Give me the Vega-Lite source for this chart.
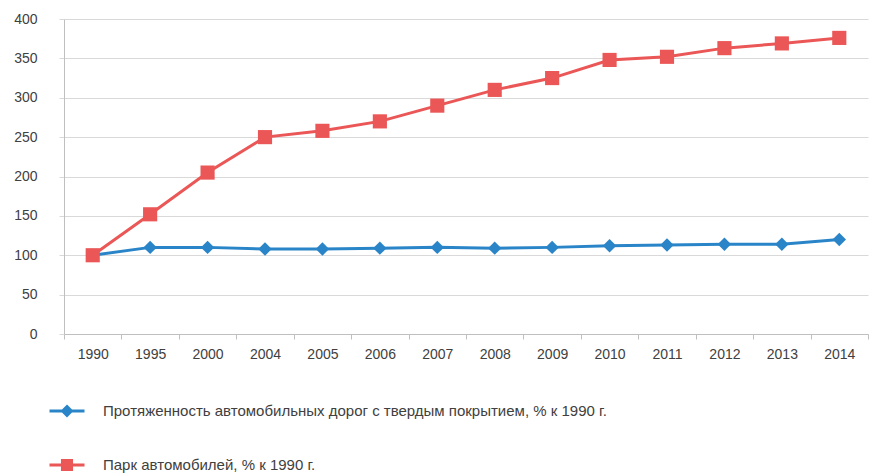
{
  "$schema": "https://vega.github.io/schema/vega-lite/v6.json",
  "width": 804,
  "height": 315,
  "autosize": {"type": "none"},
  "padding": {"left": 64, "top": 19, "right": 1, "bottom": 140},
  "background": "white",
  "config": {
    "view": {"stroke": null},
    "font": "Liberation Sans"
  },
  "data": {
    "values": [
      {"year": "1990", "s": "Протяженность автомобильных дорог с твердым  покрытием, % к 1990 г.", "v": 100},
      {"year": "1995", "s": "Протяженность автомобильных дорог с твердым  покрытием, % к 1990 г.", "v": 110},
      {"year": "2000", "s": "Протяженность автомобильных дорог с твердым  покрытием, % к 1990 г.", "v": 110},
      {"year": "2004", "s": "Протяженность автомобильных дорог с твердым  покрытием, % к 1990 г.", "v": 108},
      {"year": "2005", "s": "Протяженность автомобильных дорог с твердым  покрытием, % к 1990 г.", "v": 108},
      {"year": "2006", "s": "Протяженность автомобильных дорог с твердым  покрытием, % к 1990 г.", "v": 109},
      {"year": "2007", "s": "Протяженность автомобильных дорог с твердым  покрытием, % к 1990 г.", "v": 110},
      {"year": "2008", "s": "Протяженность автомобильных дорог с твердым  покрытием, % к 1990 г.", "v": 109},
      {"year": "2009", "s": "Протяженность автомобильных дорог с твердым  покрытием, % к 1990 г.", "v": 110},
      {"year": "2010", "s": "Протяженность автомобильных дорог с твердым  покрытием, % к 1990 г.", "v": 112},
      {"year": "2011", "s": "Протяженность автомобильных дорог с твердым  покрытием, % к 1990 г.", "v": 113},
      {"year": "2012", "s": "Протяженность автомобильных дорог с твердым  покрытием, % к 1990 г.", "v": 114},
      {"year": "2013", "s": "Протяженность автомобильных дорог с твердым  покрытием, % к 1990 г.", "v": 114},
      {"year": "2014", "s": "Протяженность автомобильных дорог с твердым  покрытием, % к 1990 г.", "v": 120},
      {"year": "1990", "s": "Парк автомобилей,  % к 1990 г.", "v": 100},
      {"year": "1995", "s": "Парк автомобилей,  % к 1990 г.", "v": 152},
      {"year": "2000", "s": "Парк автомобилей,  % к 1990 г.", "v": 205},
      {"year": "2004", "s": "Парк автомобилей,  % к 1990 г.", "v": 250},
      {"year": "2005", "s": "Парк автомобилей,  % к 1990 г.", "v": 258},
      {"year": "2006", "s": "Парк автомобилей,  % к 1990 г.", "v": 270},
      {"year": "2007", "s": "Парк автомобилей,  % к 1990 г.", "v": 290},
      {"year": "2008", "s": "Парк автомобилей,  % к 1990 г.", "v": 310},
      {"year": "2009", "s": "Парк автомобилей,  % к 1990 г.", "v": 325},
      {"year": "2010", "s": "Парк автомобилей,  % к 1990 г.", "v": 348},
      {"year": "2011", "s": "Парк автомобилей,  % к 1990 г.", "v": 352},
      {"year": "2012", "s": "Парк автомобилей,  % к 1990 г.", "v": 363},
      {"year": "2013", "s": "Парк автомобилей,  % к 1990 г.", "v": 369},
      {"year": "2014", "s": "Парк автомобилей,  % к 1990 г.", "v": 376}
    ]
  },
  "encoding": {
    "x": {
      "field": "year",
      "type": "ordinal",
      "scale": {"type": "band", "paddingInner": 0, "paddingOuter": 0},
      "axis": {
        "title": null,
        "labelAngle": 0,
        "tickBand": "extent",
        "domainColor": "#bfbfbf",
        "tickColor": "#bfbfbf",
        "tickSize": 5,
        "labelPadding": 8,
        "labelFontSize": 14,
        "labelColor": "#404040",
        "grid": false
      }
    },
    "y": {
      "field": "v",
      "type": "quantitative",
      "scale": {"domain": [0, 400]},
      "axis": {
        "title": null,
        "values": [0, 50, 100, 150, 200, 250, 300, 350, 400],
        "gridColor": "#d9d9d9",
        "domainColor": "#bfbfbf",
        "tickColor": "#d9d9d9",
        "tickSize": 5,
        "labelPadding": 22,
        "labelFontSize": 14,
        "labelColor": "#404040"
      }
    },
    "color": {
      "field": "s",
      "type": "nominal",
      "scale": {
        "domain": ["Протяженность автомобильных дорог с твердым  покрытием, % к 1990 г.", "Парк автомобилей,  % к 1990 г."],
        "range": ["#2a85c8", "#eb5656"]
      },
      "legend": {
        "title": null,
        "orient": "none",
        "legendX": -16,
        "legendY": 373,
        "direction": "vertical",
        "padding": 0,
        "rowPadding": 24,
        "labelFontSize": 15,
        "labelColor": "#404040",
        "labelOffset": 17,
        "symbolSize": 1225,
        "symbolStrokeWidth": 3,
        "labelLimit": 700,
        "encode": {
          "symbols": {
            "enter": {
              "shape": {"signal": "indexof(datum.value, 'Парк') === 0 ? 'M-1,0L1,0M-0.26,-0.26L0.26,-0.26L0.26,0.26L-0.26,0.26Z' : 'M-1,0L1,0M0,-0.25L0.25,0L0,0.25L-0.25,0Z'"}
            },
            "update": {
              "shape": {"signal": "indexof(datum.value, 'Парк') === 0 ? 'M-1,0L1,0M-0.26,-0.26L0.26,-0.26L0.26,0.26L-0.26,0.26Z' : 'M-1,0L1,0M0,-0.25L0.25,0L0,0.25L-0.25,0Z'"},
              "fill": {"signal": "indexof(datum.value, 'Парк') === 0 ? '#eb5656' : '#2a85c8'"},
              "stroke": {"signal": "indexof(datum.value, 'Парк') === 0 ? '#eb5656' : '#2a85c8'"},
              "strokeWidth": {"value": 3},
              "opacity": {"value": 1}
            }
          }
        }
      }
    }
  },
  "layer": [
    {
      "mark": {"type": "line", "strokeWidth": 3}
    },
    {
      "transform": [{"filter": "indexof(datum.s, 'Парк') !== 0"}],
      "mark": {"type": "point", "filled": true, "opacity": 1, "shape": "diamond", "size": 180}
    },
    {
      "transform": [{"filter": "indexof(datum.s, 'Парк') === 0"}],
      "mark": {"type": "point", "filled": true, "opacity": 1, "shape": "square", "size": 200}
    }
  ]
}
